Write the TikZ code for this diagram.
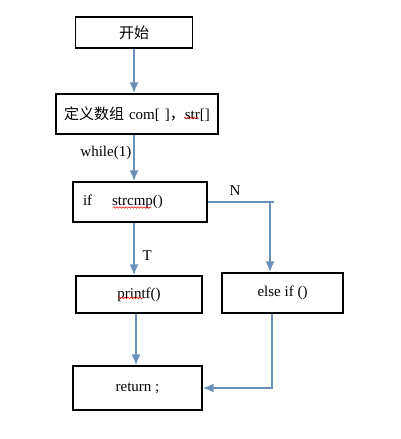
\documentclass[tikz,border=0pt]{standalone}
\usepackage{fontspec}
\setmainfont{Liberation Serif}
\newfontfamily\cjk{Noto Sans CJK SC}
\usetikzlibrary{arrows.meta,decorations.pathmorphing}
\definecolor{flowblue}{RGB}{104,144,186}

\begin{document}
\begin{tikzpicture}[x=1pt, y=-1pt, >={Latex[length=11pt,width=9pt]},
    box/.style={draw, line width=1.1pt, fill=white, inner sep=0pt},
    flow/.style={flowblue, line width=2.8pt, ->},
    wavy/.style={red, line width=0.5pt, decorate,
      decoration={snake, segment length=3pt, amplitude=0.8pt}},
    every node/.style={text=black, font=\fontsize{15}{17}\selectfont}]
    \useasboundingbox (0,0) rectangle (401,439);
    \node[box, minimum width=117pt, minimum height=31pt] (start) at (134,32.5) {\cjk 开始};
    \node[box, minimum height=40pt, text width=146pt, inner xsep=8pt, align=left] (define) at (137,114)
      {\mbox{{\cjk 定义数组} com[~]{\cjk ，}str[]}};
    \node[box, minimum height=40pt, text width=114pt, inner xsep=10pt, align=left] (ifbox) at (140,202)
      {if\hspace{20pt}strcmp()};
    \node[box, minimum width=126pt, minimum height=37pt] (printf) at (139,294.5) {printf()};
    \node[box, minimum width=121pt, minimum height=40pt] (elseif) at (282.5,293) {else if ()};
    \node[box, minimum width=129pt, minimum height=44pt] (ret) at (137.5,388) {return ;};
    \coordinate (nturn) at (270,202);
    \draw[flow] (start.south) -- (start.south |- define.north);
    \draw[flow] (start.south |- define.south) -- (start.south |- ifbox.north)
      node[pos=0.4, left=-2pt] (loop) {while(1)};
    \draw[flow] (start.south |- ifbox.south) -- (start.south |- printf.north)
      node[pos=0.62, right=4pt] (yes) {T};
    \draw[flow] ([xshift=-3pt]printf.south) -- ([xshift=-3pt]printf.south |- ret.north);
    \draw[flowblue, line width=2.8pt] (ifbox.east) -- ++(66,0);
    \draw[flow] (nturn) -- (nturn |- elseif.north);
    \node (no) at (235,191) {N};
    \draw[flow] ([xshift=2pt]nturn |- elseif.south) |- (ret.east);
    % spell-check marks
    \draw[wavy] (184,118) -- (199,118);
    \draw[wavy] (113,207.5) -- (151,207.5);
    \draw[wavy] (118,298) -- (143,298);
\end{tikzpicture}
\end{document}
